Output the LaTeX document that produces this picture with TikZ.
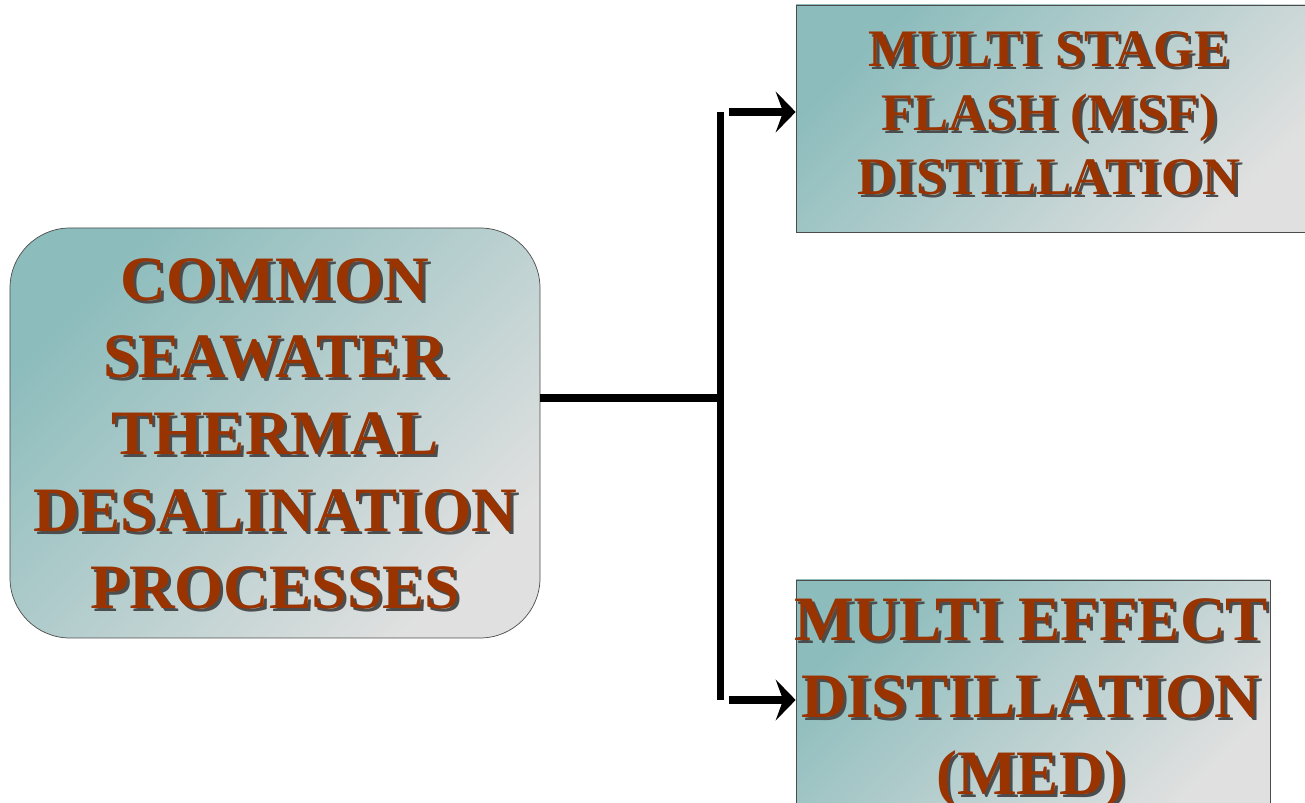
\documentclass[tikz,border=0pt]{standalone}
\usepackage{fontspec}
\setmainfont{Liberation Serif}
\usetikzlibrary{arrows.meta,positioning}
\definecolor{rust}{RGB}{153,51,0}
\definecolor{seateal}{RGB}{140,188,188}
\definecolor{paleg}{RGB}{224,224,224}

% text with a dark drop shadow
\newcommand{\shtext}[1]{\leavevmode\rlap{\kern0.06cm\raisebox{-0.06cm}{\color{black!70}\begin{tabular}{@{}c@{}}#1\end{tabular}}}\begin{tabular}{@{}c@{}}#1\end{tabular}}

\tikzset{
  procbox/.style={rectangle, draw=black!70, thin, top color=seateal, bottom color=paleg, shading angle=45},
  bigtxt/.style={inner sep=0pt, text=rust, font=\bfseries\fontsize{36}{43.8}\selectfont},
  midtxt/.style={inner sep=0pt, text=rust, font=\bfseries\fontsize{30}{36.4}\selectfont},
  link/.style={line width=4.4pt}
}

\begin{document}
\begin{tikzpicture}[>={Stealth[length=0.4cm, width=0.82cm, inset=0.15cm]}]
    \clip (0,0) rectangle (26.1,16.06);

    % Nodes
    \node (common) [procbox, rounded corners=1.2cm, minimum width=10.6cm, minimum height=8.2cm] at (5.5,7.4) {};
    \node (msf) [procbox, minimum width=10.38cm, minimum height=4.54cm] at (21.11,13.69) {};
    \node (med) [procbox, minimum width=9.48cm, minimum height=4.76cm] at (20.66,2.08) {};

    % Texts
    \node (common-txt) [bigtxt] at (5.5,7.24) {\shtext{COMMON\\SEAWATER\\THERMAL\\DESALINATION\\PROCESSES}};
    \node (msf-txt) [midtxt] at (20.98,13.68) {\shtext{MULTI STAGE\\FLASH (MSF)\\DISTILLATION}};
    \node (med-txt) [bigtxt] at (20.62,1.98) {\shtext{MULTI EFFECT\\DISTILLATION\\(MED)}};

    % Edges
    \coordinate (split) at (14.41,8.1);
    \coordinate (msf-in) at (14.41,13.82);
    \coordinate (med-in) at (14.41,2.06);
    \draw[link] (common.east |- split) -- (split);
    \draw[link] (msf-in) -- (med-in);
    \draw[link, ->] ([xshift=0.16cm]msf-in) -- (msf.west |- msf-in);
    \draw[link, ->] ([xshift=0.16cm]med-in) -- (med.west |- med-in);
\end{tikzpicture}
\end{document}
